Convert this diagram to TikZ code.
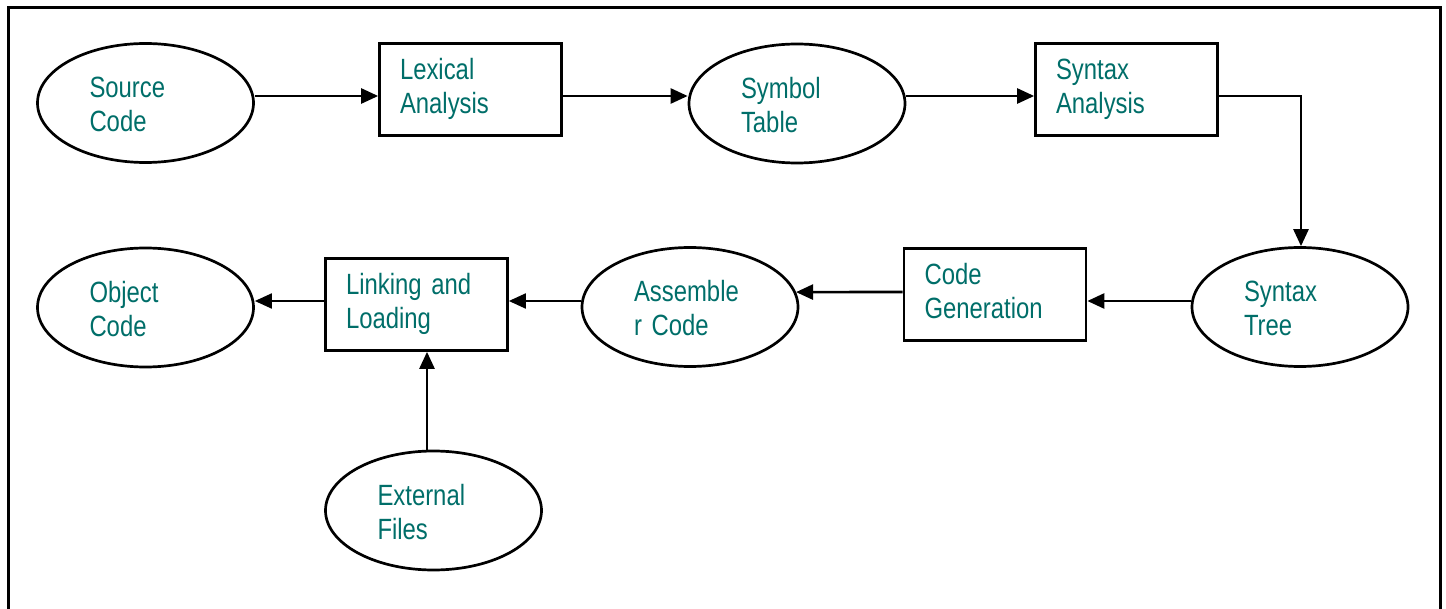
\documentclass[tikz,border=0pt]{standalone}
\usepackage{fontspec}
\setmainfont{Liberation Sans}[FakeStretch=0.815]
\usetikzlibrary{arrows.meta,shapes.geometric}
\definecolor{labelteal}{RGB}{0,110,105}
% label type: condensed sans with a tighter word space
\newcommand\stagelabelfont{\fontsize{14.65pt}{17pt}\selectfont\spaceskip=3pt\relax}
\begin{document}
\begin{tikzpicture}[x=0.5pt,y=-0.5pt,
  every node/.style={font=\stagelabelfont, text=labelteal, inner sep=0pt, align=left},
  datanode/.style={draw=black, line width=1.35pt, ellipse,
    minimum width=108pt, minimum height=59.5pt,
    text width=56pt, text height=10pt, text depth=15pt},
  phasebox/.style={draw=black, line width=1.35pt, rectangle,
    minimum width=91pt, minimum height=46pt,
    text width=70.5pt, text height=8pt, text depth=18pt},
  flow/.style={line width=1.3pt, -{Triangle[length=8.5pt,width=7.5pt]}},
  thinflow/.style={line width=1pt, -{Triangle[length=8.5pt,width=7.5pt]}}]

\useasboundingbox (0,0) rectangle (1446,609);

% outer frame (open at the bottom)
\draw[line width=1.5pt] (8.5,615) -- (8.5,7.5) -- (1440,7.5) -- (1440,615);

% top row
\node[datanode] (src) at (145.5,103)   {Source\\Code};
\node[phasebox] (lex) at (470.5,89.5)  {Lexical\\Analysis};
\node[datanode] (sym) at (797,103.5)   {Symbol\\Table};
\node[phasebox] (syn) at (1126.5,89.5) {Syntax\\Analysis};

% middle row
\node[datanode] (tree) at (1300,307)   {Syntax\\Tree};
\node[phasebox] (gen)  at (995,294.5)  {Code\\Generation};
\node[datanode] (asm)  at (690,307)    {Assemble\\r Code};
\node[phasebox] (link) at (416.5,304.5){Linking and\\Loading};
\node[datanode] (obj)  at (145.5,307.5){Object\\Code};

% bottom
\node[datanode] (ext) at (433.5,510.5) {External\\Files};

% connector levels
\coordinate (top) at (0,96);
\coordinate (midA) at (0,301);
\coordinate (midB) at (0,292);
\coordinate (drop) at (1301,0);
\coordinate (feed) at (427,0);

\draw[flow] (src.east |- top) -- (lex.west |- top);
\draw[flow] (lex.east |- top) -- (sym.west |- top);
\draw[flow] (sym.east |- top) -- (syn.west |- top);
\draw[flow] (syn.east |- top) -| (tree.north -| drop);
\draw[flow] (tree.west |- midA) -- (gen.east |- midA);
\draw[flow] (gen.west |- midB) -- (asm.8);
\draw[thinflow] (asm.west |- midA) -- (link.east |- midA);
\draw[thinflow] (link.west |- midA) -- (obj.east |- midA);
\draw[flow] (ext.north -| feed) -- (link.south -| feed);
\end{tikzpicture}
\end{document}
